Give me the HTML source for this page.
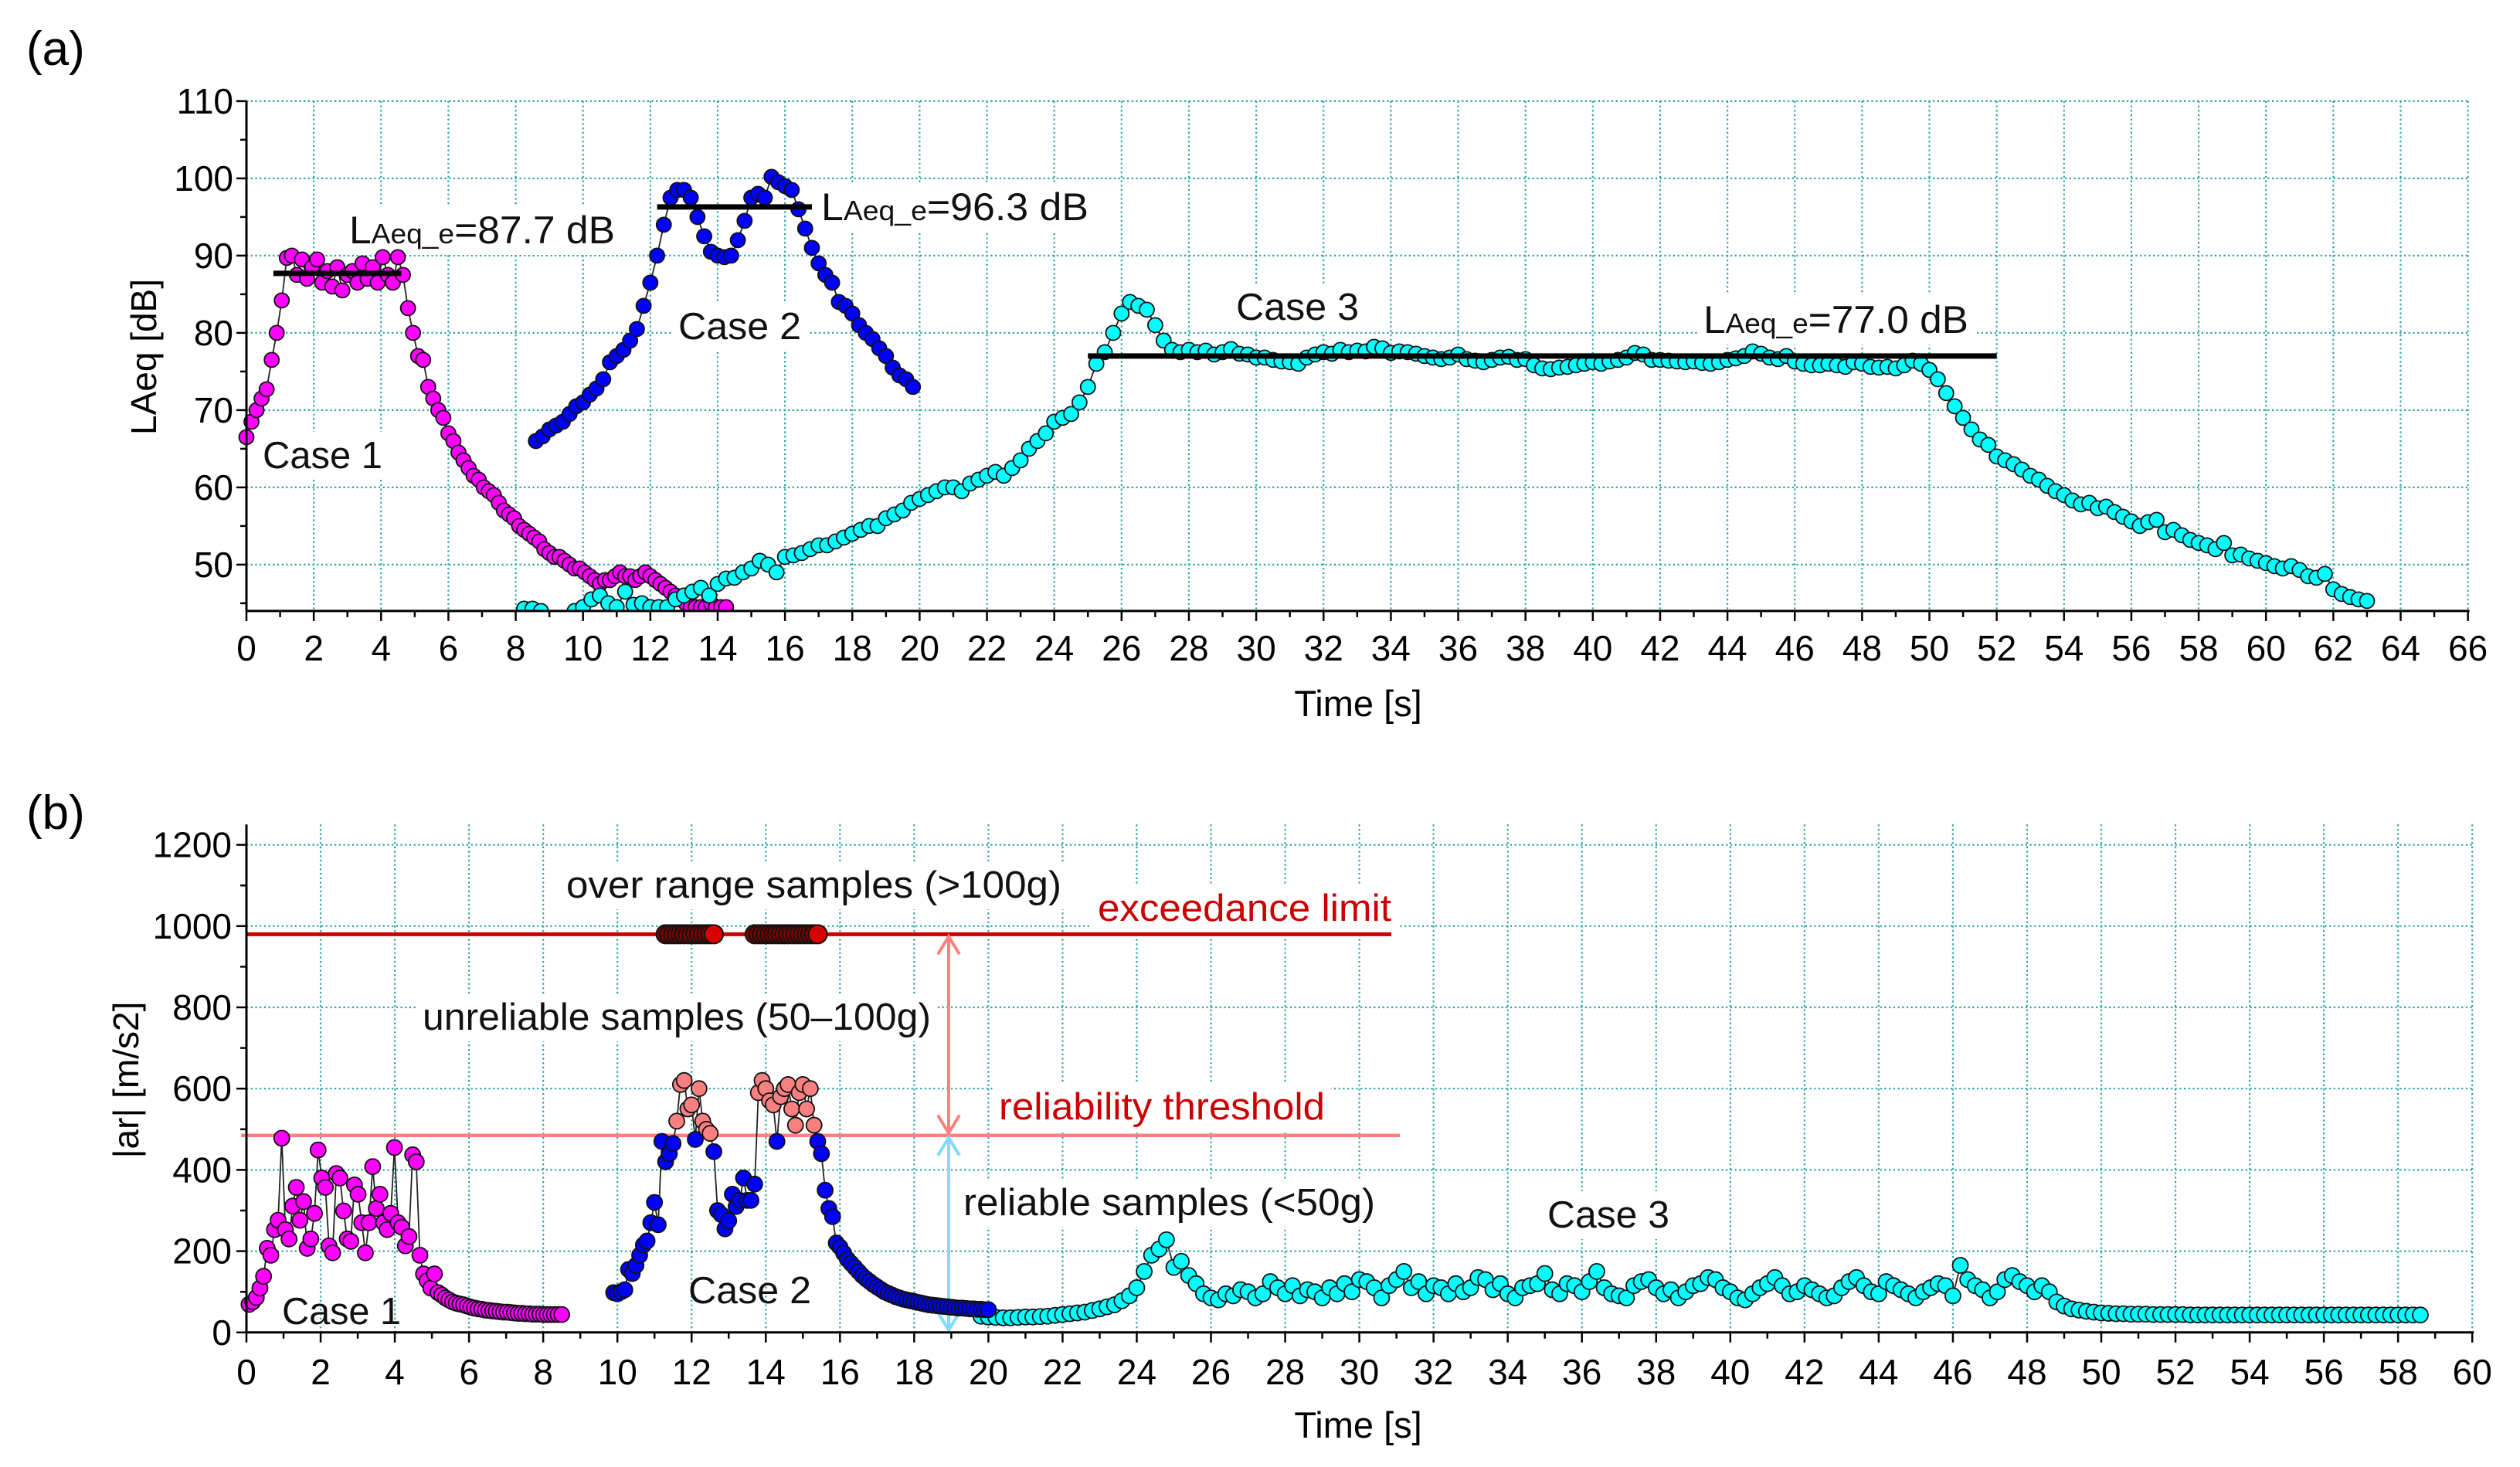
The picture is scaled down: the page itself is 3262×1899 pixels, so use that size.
<!DOCTYPE html>
<html><head><meta charset="utf-8">
<style>
html,body{margin:0;padding:0;background:#fff;}
svg{display:block;font-family:"Liberation Sans",Arial,sans-serif;}
</style></head>
<body>
<svg id="fig" width="3262" height="1899" viewBox="0 0 3262 1899" xmlns="http://www.w3.org/2000/svg">
<defs>
<clipPath id="clipA"><rect x="300" y="110" width="2920" height="681"/></clipPath>
<clipPath id="clipB"><rect x="300" y="1040" width="2920" height="685"/></clipPath>
</defs>
<rect x="0" y="0" width="3262" height="1899" fill="#fff"/>
<g id="gridA"></g>
<g id="gridB"></g>
<g id="annotBg"></g>
<g id="refLines"></g>
<g id="dataA" clip-path="url(#clipA)"></g>
<g id="dataB" clip-path="url(#clipB)"></g>
<g id="axes"></g>
<g id="texts"></g>
</svg>
<script>
// ---------- Panel (a) data ----------
const a1Start = 0, a1Step = 0.15;
const a1Values = [66.5,68.5,70,71.5,72.7,76.5,80,84.2,89.7,90,87.5,89.5,87,88.5,89.5,86.5,88,86,88.5,85.5,87.5,88,86.5,89,87,88.5,86.5,89.8,87.5,86.5,89.8,87.5,
83.2,80,77,76.5,73,71.5,70,69,67,66,64.5,63.5,62.5,61.5,61,60,59.5,59,58,57,56.5,56,55,54.5,54,53.5,53,52,51.5,51,51,50.5,50,49.5,49.5,49,48.5,48,47.5,48,48,48.5,49,48.5,48.5,48,48.5,49,48.5,48,47.5,47,46.5,46,45.5,45,44.5,44.5,44.5,44.5,45,44.5,44.5,44.5];
const a2Start = 8.6, a2Step = 0.2;
const a2Values = [66,66.6,67.5,68,68.5,69.5,70.5,71,72,72.8,74,76.2,77,77.8,79,80.5,83.5,86.5,90,94,97.5,98.5,98.5,97.5,95,92.5,90.5,90,89.8,90,92,94.5,97.5,98,97.5,100.2,99.5,99,98.5,96,93.5,91,89,87.5,86.5,84,83.5,82.5,81,80,79.2,78,77,75.5,74.5,74,73];
const a3Start = 8.25, a3Step = 0.25;
const a3Values = [44.3,44.3,44,null,null,null,44,44.5,45.5,46,45,44.5,46.5,44.8,45,44.5,44.5,44.5,45.5,46,46.5,47,46,47.5,48.2,48.3,49,49.5,50.5,50,49,51,51.2,51.5,52,52.5,52.5,53,53.5,54,54.5,55,55,56,56.5,57,58,58.5,59,59.5,60,60,59.5,60.5,61,61.5,62,61.5,62.5,63.5,65,66,67,68.5,69,69.5,71,73,76,77.5,80,82.5,84,83.5,83,81,79,77.8,77.5,77.8,77.5,77.7,77.2,77.5,77.9,77.3,77.2,76.8,76.8,76.5,76.3,76.2,76,76.8,77.2,77.5,77.3,77.8,77.5,77.7,77.6,78.2,78,77.4,77.6,77.5,77.3,77,76.8,76.6,76.8,77.2,76.6,76.4,76.2,76.5,76.8,76.9,76.5,76.6,75.8,75.4,75.3,75.5,75.6,75.8,76,76.2,76,76.3,76.5,76.8,77.4,77.2,76.5,76.5,76.4,76.3,76.2,76.3,76.1,76,76.2,76.5,76.7,77,77.6,77.3,76.8,76.6,77,76.3,76,75.8,75.8,76,75.8,75.6,76.2,76,75.6,75.5,75.6,75.4,75.8,76.4,76,75.2,74,72.2,70.5,69,67.5,66.2,65.5,64,63.5,63,62.3,61.5,61,60.2,59.5,59,58.3,57.8,58,57.3,57.5,56.8,56.2,55.6,55,55.5,55.8,54.2,54.5,53.8,53.2,52.8,52.5,52,52.8,51.2,51.3,50.8,50.5,50.2,49.8,49.5,49.8,49.3,48.5,48.3,48.8,46.8,46.2,45.8,45.5,45.3];
const aLeq = [87.7, 96.3, 77.0];
const aLeqFrom = [0.8, 12.2, 25.0];
const aLeqTo = [4.6, 16.8, 52.0];
const aXTicks = [0,2,4,6,8,10,12,14,16,18,20,22,24,26,28,30,32,34,36,38,40,42,44,46,48,50,52,54,56,58,60,62,64,66];
const aYTicks = [50,60,70,80,90,100,110];

// ---------- Panel (b) data ----------
const b1Start = 0.07, b1Step = 0.098;
const b1Values = [69,75,86,109,138,207,190,253,276,478,253,230,311,357,276,322,207,230,293,449,380,357,213,196,391,380,299,230,224,363,340,270,196,270,408,305,340,270,253,293,455,270,259,213,236,437,420,190,144,127,109,144,98,92,
85,80,75,72,70,68,65,62,60,58,57,55,54,53,52,51,50,50,49,48,47,47,46,46,45,45,45,44,44,44,44,44,44];
const b2Start = 9.9, b2Step = 0.1;
const b2Values = [98,95,100,105,155,145,165,190,215,225,270,320,265,470,420,440,465,520,610,620,550,560,475,600,520,500,490,445,300,290,255,275,340,310,325,380,325,325,365,590,620,600,570,560,470,580,600,610,550,510,590,610,550,600,510,470,440,350,305,285,220,210,195,180,170,160,150,140,132,125,118,112,106,100,96,92,88,85,82,80,78,76,74,72,70,68,67,66,65,64,63,62,61,60,60,59,58,58,57,57,56,56];
const b3Start = 19.8, b3Step = 0.2;
const b3Values = [40,38,37,36,36,37,38,38,39,40,42,
44,46,48,50,54,58,63,68,78,90,
110,150,190,205,228,160,175,140,120,95,
85,80,95,90,105,100,85,95,125,110,
95,115,90,105,100,85,110,95,120,100,
130,125,110,85,115,130,150,110,125,95,
115,110,95,120,100,110,135,130,105,120,
95,85,110,115,120,145,105,95,120,115,
100,125,150,110,95,90,85,115,125,130,
110,95,105,85,100,115,120,135,130,110,
100,85,80,95,110,120,135,115,95,100,
115,105,95,85,90,110,125,135,115,100,
95,125,115,105,95,85,100,110,120,115,
90,165,130,115,105,85,100,130,140,125,
115,100,115,100,75,65,58,55,52,50,
48,47,46,46,45,45,45,44,44,44,
44,44,43,43,43,43,43,43,43,43,
43,43,43,43,43,43,43,43,43,43,
43,43,43,43,43,43,43,43,43,43,
43,43,43,43];
const bOverTimes1 = [11.3,11.4,11.5,11.6,11.7,11.8,11.9,12.0,12.1,12.2,12.3,12.4,12.5,12.6];
const bOverTimes2 = [13.7,13.8,13.9,14.0,14.1,14.2,14.3,14.4,14.5,14.6,14.7,14.8,14.9,15.0,15.1,15.2,15.3,15.4];
const bOverValue = 980;
const bExceedance = 980;
const bThreshold = 485;
const bXTicks = [0,2,4,6,8,10,12,14,16,18,20,22,24,26,28,30,32,34,36,38,40,42,44,46,48,50,52,54,56,58,60];
const bYTicks = [0,200,400,600,800,1000,1200];

// ---------- scales ----------
const AX0 = 319, AXS = 43.57, AY110 = 130.9, AYS = 10.0, AYMIN = 44, AXMAX = 66;
function xA(t){ return AX0 + t*AXS; }
function yA(v){ return AY110 + (110 - v)*AYS; }
const BX0 = 319, BXS = 48.02, BY0 = 1724.8, BYS = 0.526, BYMAX = 1250, BXMAX = 60;
function xB(t){ return BX0 + t*BXS; }
function yB(v){ return BY0 - v*BYS; }

const NS = "http://www.w3.org/2000/svg";
function mk(tag, attrs, parent){
  const e = document.createElementNS(NS, tag);
  for (const k in attrs) e.setAttribute(k, attrs[k]);
  parent.appendChild(e);
  return e;
}
const gridA = document.getElementById('gridA');
const gridB = document.getElementById('gridB');
const axes = document.getElementById('axes');
const dataA = document.getElementById('dataA');
const dataB = document.getElementById('dataB');
const texts = document.getElementById('texts');
const annotBg = document.getElementById('annotBg');
const refLines = document.getElementById('refLines');
const GRID = {stroke:'#2aa3a3', 'stroke-width':2.2, 'stroke-dasharray':'2.2,3.5', fill:'none'};

aXTicks.forEach(t => { if (t===0) return;
  const l = mk('line', Object.assign({x1:xA(t), x2:xA(t), y1:yA(110), y2:yA(AYMIN)}, GRID), gridA);
  
  
});
aYTicks.forEach(v => {
  const l = mk('line', Object.assign({x1:xA(0), x2:xA(AXMAX), y1:yA(v), y2:yA(v)}, GRID), gridA);
  
  
});
bXTicks.forEach(t => { if (t===0) return;
  const l = mk('line', Object.assign({x1:xB(t), x2:xB(t), y1:yB(BYMAX), y2:yB(0)}, GRID), gridB);
  
  
});
bYTicks.forEach(v => { if (v===0) return;
  const l = mk('line', Object.assign({x1:xB(0), x2:xB(BXMAX), y1:yB(v), y2:yB(v)}, GRID), gridB);
  
  
});

const AXS_STYLE = {stroke:'#000', 'stroke-width':3};
let e;
e = mk('line', Object.assign({x1:xA(0), x2:xA(AXMAX)+2, y1:yA(AYMIN), y2:yA(AYMIN)}, AXS_STYLE), axes);
 
e = mk('line', Object.assign({x1:xA(0), x2:xA(0), y1:yA(110), y2:yA(AYMIN)+1.5}, AXS_STYLE), axes);
 
e = mk('line', Object.assign({x1:xB(0), x2:xB(BXMAX)+2, y1:yB(0), y2:yB(0)}, AXS_STYLE), axes);
 
e = mk('line', Object.assign({x1:xB(0), x2:xB(0), y1:yB(BYMAX), y2:yB(0)+1.5}, AXS_STYLE), axes);
 

const TICKFONT = 46;
for (let t=0; t<=AXMAX; t++){
  const major = t%2===0;
  mk('line', {x1:xA(t), x2:xA(t), y1:yA(AYMIN), y2:yA(AYMIN)+(major?13:8), stroke:'#000','stroke-width':2.5}, axes);
}
aXTicks.forEach(t => {
  const tx = mk('text', {x:xA(t), y:855, 'font-size':TICKFONT, 'text-anchor':'middle', fill:'#000'}, axes);
  tx.textContent = t;
  
  
});
for (let v=45; v<=110; v+=5){
  const major = v%10===0;
  mk('line', {x1:xA(0), x2:xA(0)-(major?13:8), y1:yA(v), y2:yA(v), stroke:'#000','stroke-width':2.5}, axes);
}
aYTicks.forEach(v => {
  const tx = mk('text', {x:302, y:yA(v)+16, 'font-size':TICKFONT, 'text-anchor':'end', fill:'#000'}, axes);
  tx.textContent = v;
  
  
});
for (let t=0; t<=BXMAX; t++){
  const major = t%2===0;
  mk('line', {x1:xB(t), x2:xB(t), y1:yB(0), y2:yB(0)+(major?13:8), stroke:'#000','stroke-width':2.5}, axes);
}
bXTicks.forEach(t => {
  const tx = mk('text', {x:xB(t), y:1792, 'font-size':TICKFONT, 'text-anchor':'middle', fill:'#000'}, axes);
  tx.textContent = t;
  
  
});
for (let v=0; v<=1200; v+=100){
  const major = v%200===0;
  mk('line', {x1:xB(0), x2:xB(0)-(major?13:8), y1:yB(v), y2:yB(v), stroke:'#000','stroke-width':2.5}, axes);
}
bYTicks.forEach(v => {
  const tx = mk('text', {x:300, y:yB(v)+16, 'font-size':TICKFONT, 'text-anchor':'end', fill:'#000'}, axes);
  tx.textContent = v;
  
  
});

e = mk('text', {x:1758, y:927, 'font-size':47, 'text-anchor':'middle'}, axes); e.textContent = 'Time [s]';
 
e = mk('text', {x:1758, y:1861, 'font-size':47, 'text-anchor':'middle'}, axes); e.textContent = 'Time [s]';
 
e = mk('text', {x:0, y:0, 'font-size':46, 'text-anchor':'middle', transform:'translate(202,462) rotate(-90)'}, axes); e.textContent = 'LAeq [dB]';
 
e = mk('text', {x:0, y:0, 'font-size':46, 'text-anchor':'middle', transform:'translate(179,1398) rotate(-90)'}, axes); e.textContent = '|ar| [m/s2]';
 
e = mk('text', {x:34, y:84, 'font-size':62}, axes); e.textContent = '(a)';
 
e = mk('text', {x:34, y:1073, 'font-size':62}, axes); e.textContent = '(b)';
 

function drawSeries(parent, start, step, vals, xf, yf, r, fillFn, name){
  const g = mk('g', {}, parent);
  
  
  let d = '', pen = false;
  vals.forEach((v,i) => {
    if (v === null){ pen = false; return; }
    const x = xf(start + i*step), y = yf(v);
    d += (pen ? 'L' : 'M') + x.toFixed(1) + ' ' + y.toFixed(1);
    pen = true;
  });
  mk('path', {d:d, fill:'none', stroke:'#222', 'stroke-width':1.8}, g);
  vals.forEach((v,i) => {
    if (v === null) return;
    const c = mk('circle', {cx:xf(start+i*step), cy:yf(v), r:r, fill:fillFn(v), stroke:'#111', 'stroke-width':1.8}, g);
    
    
  });
}
drawSeries(dataA, a1Start, a1Step, a1Values, xA, yA, 9.5, () => '#ff00ff', 'case1-laeq');
drawSeries(dataA, a3Start, a3Step, a3Values, xA, yA, 9.5, () => '#00ffff', 'case3-laeq');
drawSeries(dataA, a2Start, a2Step, a2Values, xA, yA, 9.5, () => '#0000ff', 'case2-laeq');
aLeq.forEach((v,i) => {
  const l = mk('line', {x1:xA(aLeqFrom[i]), x2:xA(aLeqTo[i]), y1:yA(v), y2:yA(v), stroke:'#000', 'stroke-width':7}, dataA);
  
  
});

e = mk('line', {x1:xB(0), x2:1801, y1:yB(bExceedance), y2:yB(bExceedance), stroke:'#cc0000', 'stroke-width':5}, refLines);
 
e = mk('line', {x1:312, x2:1812, y1:yB(bThreshold), y2:yB(bThreshold), stroke:'#ff8080', 'stroke-width':4.5}, refLines);
 
function arrow(x, y1, y2, col, name){
  const g = mk('g', {stroke:col, 'stroke-width':4, fill:'none'}, refLines);
  
  
  mk('line', {x1:x, x2:x, y1:y1+3, y2:y2-3}, g);
  mk('path', {d:`M${x-14} ${y1+26} L${x} ${y1+3} L${x+14} ${y1+26}`}, g);
  mk('path', {d:`M${x-14} ${y2-26} L${x} ${y2-3} L${x+14} ${y2-26}`}, g);
}
arrow(1228, yB(bExceedance), yB(bThreshold), '#ff8080', 'unreliable-range-arrow');
arrow(1228, yB(bThreshold), yB(0), '#80dcff', 'reliable-range-arrow');

drawSeries(dataB, b3Start, b3Step, b3Values, xB, yB, 10, () => '#00ffff', 'case3-acc');
drawSeries(dataB, b1Start, b1Step, b1Values, xB, yB, 10, () => '#ff00ff', 'case1-acc');
drawSeries(dataB, b2Start, b2Step, b2Values, xB, yB, 10, v => v > bThreshold ? '#f88080' : '#0000ff', 'case2-acc');
[bOverTimes1, bOverTimes2].forEach((arr, gi) => {
  arr.forEach((t, i) => {
    const c = mk('circle', {cx:xB(t), cy:yB(bOverValue), r:12, fill: i===arr.length-1 ? '#d80000' : '#7a0000', stroke:'#111', 'stroke-width':2}, dataB);
    
    
  });
});

function note(parent, x, y, size, content, col, w, name, bg){
  const t = mk('text', {x:x, y:y, 'font-size':size, fill:col||'#111'}, parent);
  if (typeof content === 'string') t.textContent = content;
  else content.forEach(p => { const s = mk('tspan', {'font-size':p[1]}, t); s.textContent = p[0]; });
  if (w) { t.setAttribute('textLength', w); t.setAttribute('lengthAdjust', 'spacingAndGlyphs'); }
  
  
  if (bg){
    const b = t.getBBox();
    mk('rect', {x:b.x-8, y:b.y-4, width:b.width+16, height:b.height+8, fill:'#fff'}, annotBg);
  }
  return t;
}
note(texts, 452, 315, 50, [['L',50],['Aeq_e',36],['=87.7 dB',50]], '#111', 344, 'laeq-label-case1', true);
note(texts, 1063, 285, 50, [['L',50],['Aeq_e',36],['=96.3 dB',50]], '#111', 346, 'laeq-label-case2', true);
note(texts, 2205, 431, 50, [['L',50],['Aeq_e',36],['=77.0 dB',50]], '#111', 343, 'laeq-label-case3', true);
note(texts, 340, 606, 49, 'Case 1', '#111', 155, 'case1-label-a', true);
note(texts, 878, 439, 49, 'Case 2', '#111', 159, 'case2-label-a', true);
note(texts, 1600, 414, 49, 'Case 3', '#111', 159, 'case3-label-a', true);
note(texts, 733, 1162, 49, 'over range samples (>100g)', '#111', 641, 'over-range-label', true);
note(texts, 1421, 1192, 49, 'exceedance limit', '#cc0000', 380, 'exceedance-limit-label', true);
note(texts, 547, 1333, 49, 'unreliable samples (50–100g)', '#111', 658, 'unreliable-label', true);
note(texts, 1293, 1449, 49, 'reliability threshold', '#cc0000', 422, 'reliability-threshold-label', true);
note(texts, 1247, 1573, 49, 'reliable samples (<50g)', '#111', 533, 'reliable-label', true);
note(texts, 2003, 1589, 49, 'Case 3', '#111', 158, 'case3-label-b', true);
note(texts, 365, 1714, 49, 'Case 1', '#111', 154, 'case1-label-b', false);
note(texts, 891, 1687, 49, 'Case 2', '#111', 159, 'case2-label-b', false);
</script>
</body></html>
